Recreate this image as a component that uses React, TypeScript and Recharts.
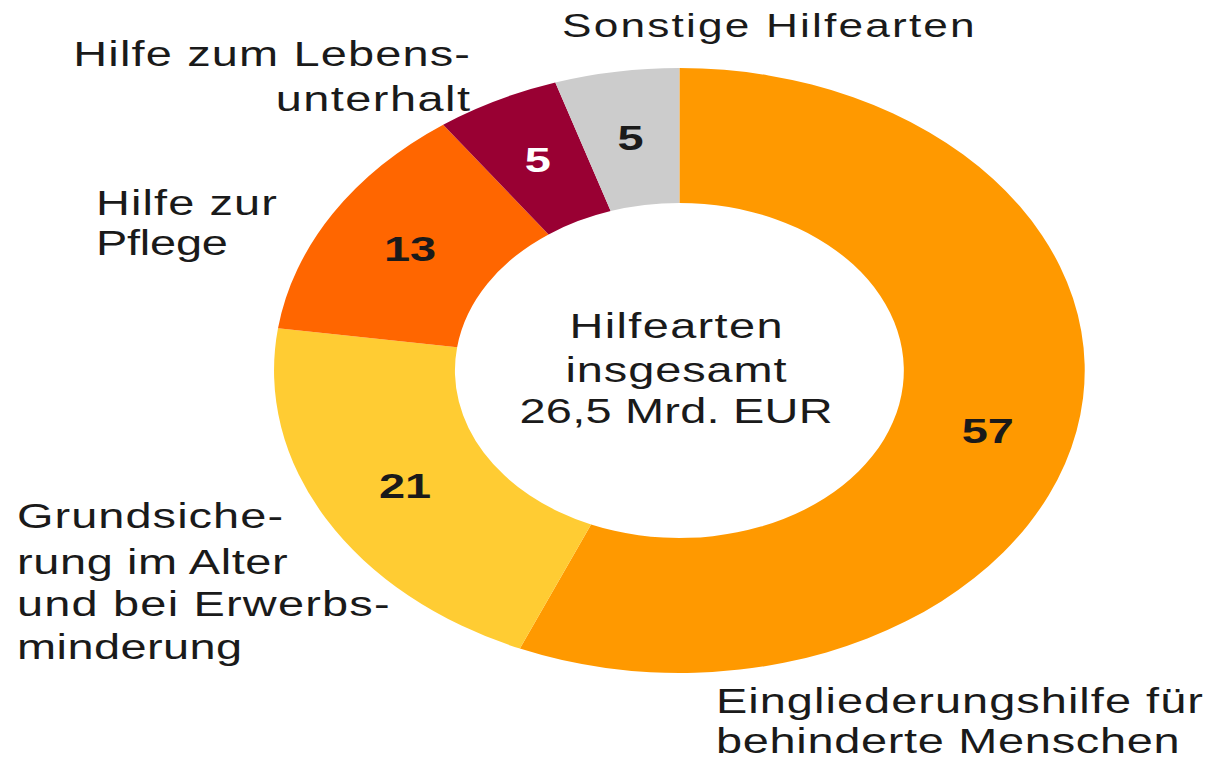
import React from 'react';
import { PieChart, Pie, Cell, Customized } from 'recharts';

const categories = [
  'Eingliederungshilfe für behinderte Menschen',
  'Grundsicherung im Alter und bei Erwerbsminderung',
  'Hilfe zur Pflege',
  'Hilfe zum Lebensunterhalt',
  'Sonstige Hilfearten',
];
const values = [57, 21, 13, 5, 5];
const colors = ['#FF9900', '#FFCC33', '#FF6600', '#990033', '#CCCCCC'];
const valueTextColors = ['#1a1a1a', '#1a1a1a', '#1a1a1a', '#ffffff', '#1a1a1a'];
const valueLabelDy = [13, 0, 0, 0, 0];
const centerLines = ['Hilfearten', 'insgesamt', '26,5 Mrd. EUR'];

const data = categories.map((name, i) => ({ name, value: values[i] }));

const FONT = '"Liberation Sans", Arial, sans-serif';
const SX = 1.34;
const RADIAN = Math.PI / 180;

type LabelLine = { text: string; x: number; y: number; len: number; anchor: 'start' | 'end' | 'middle'; size?: number };

const outsideLabels: LabelLine[] = [
  { text: 'Sonstige Hilfearten', x: 419.4, y: 37, len: 308, anchor: 'start', size: 33 },
  { text: 'Hilfe zum Lebens-', x: 350.7, y: 66, len: 296, anchor: 'end' },
  { text: 'unterhalt', x: 350.7, y: 111, len: 145, anchor: 'end' },
  { text: 'Hilfe zur', x: 71.6, y: 215, len: 135, anchor: 'start' },
  { text: 'Pflege', x: 71.6, y: 255, len: 98.5, anchor: 'start' },
  { text: 'Grundsiche-', x: 12.7, y: 528, len: 198.5, anchor: 'start' },
  { text: 'rung im Alter', x: 12.7, y: 574, len: 202, anchor: 'start' },
  { text: 'und bei Erwerbs-', x: 12.7, y: 616, len: 278, anchor: 'start' },
  { text: 'minderung', x: 12.7, y: 659, len: 168, anchor: 'start' },
  { text: 'Eingliederungshilfe für', x: 534.3, y: 713, len: 363.4, anchor: 'start' },
  { text: 'behinderte Menschen', x: 534.3, y: 753, len: 346, anchor: 'start' },
];

const centerPos = [
  { y: 338, len: 159 },
  { y: 382, len: 165 },
  { y: 423, len: 233.6 },
];

const TextLayer = () => (
  <g>
    {outsideLabels.map((l, i) => (
      <text
        key={i}
        x={l.x}
        y={l.y}
        textAnchor={l.anchor}
        textLength={l.len}
        lengthAdjust="spacing"
        fontFamily={FONT}
        fontSize={l.size ?? 35}
        fill="#1a1a1a"
      >
        {l.text}
      </text>
    ))}
    {centerLines.map((t, i) => (
      <text
        key={'c' + i}
        x={504.5}
        y={centerPos[i].y}
        textAnchor="middle"
        textLength={centerPos[i].len}
        lengthAdjust="spacing"
        fontFamily={FONT}
        fontSize={35}
        fill="#1a1a1a"
      >
        {t}
      </text>
    ))}
  </g>
);

const renderValue = (props: any) => {
  const { cx, cy, midAngle, innerRadius, outerRadius, index, value } = props;
  const r = (innerRadius + outerRadius) / 2;
  const x = cx + r * Math.cos(-midAngle * RADIAN);
  const y = cy + r * Math.sin(-midAngle * RADIAN) + valueLabelDy[index];
  return (
    <text
      x={x}
      y={y}
      textAnchor="middle"
      dominantBaseline="central"
      fontFamily={FONT}
      fontWeight="bold"
      fontSize={35}
      fill={valueTextColors[index]}
    >
      {value}
    </text>
  );
};

export default function App() {
  return (
    <div style={{ position: 'absolute', left: 0, top: 0, width: 1206, height: 761, overflow: 'hidden', background: '#fff' }}>
      <div style={{ width: 900, height: 761, transform: `scaleX(${SX})`, transformOrigin: '0 0' }}>
        <PieChart width={900} height={761} margin={{ top: 0, right: 0, bottom: 0, left: 0 }}>
          <Pie
            data={data}
            dataKey="value"
            nameKey="name"
            cx={507}
            cy={370.5}
            innerRadius={167.5}
            outerRadius={302.5}
            startAngle={90}
            endAngle={-270}
            stroke="none"
            label={renderValue}
            labelLine={false}
            isAnimationActive={false}
          >
            {data.map((d, i) => (
              <Cell key={d.name} fill={colors[i]} />
            ))}
          </Pie>
          <Customized component={<TextLayer />} />
        </PieChart>
      </div>
    </div>
  );
}
